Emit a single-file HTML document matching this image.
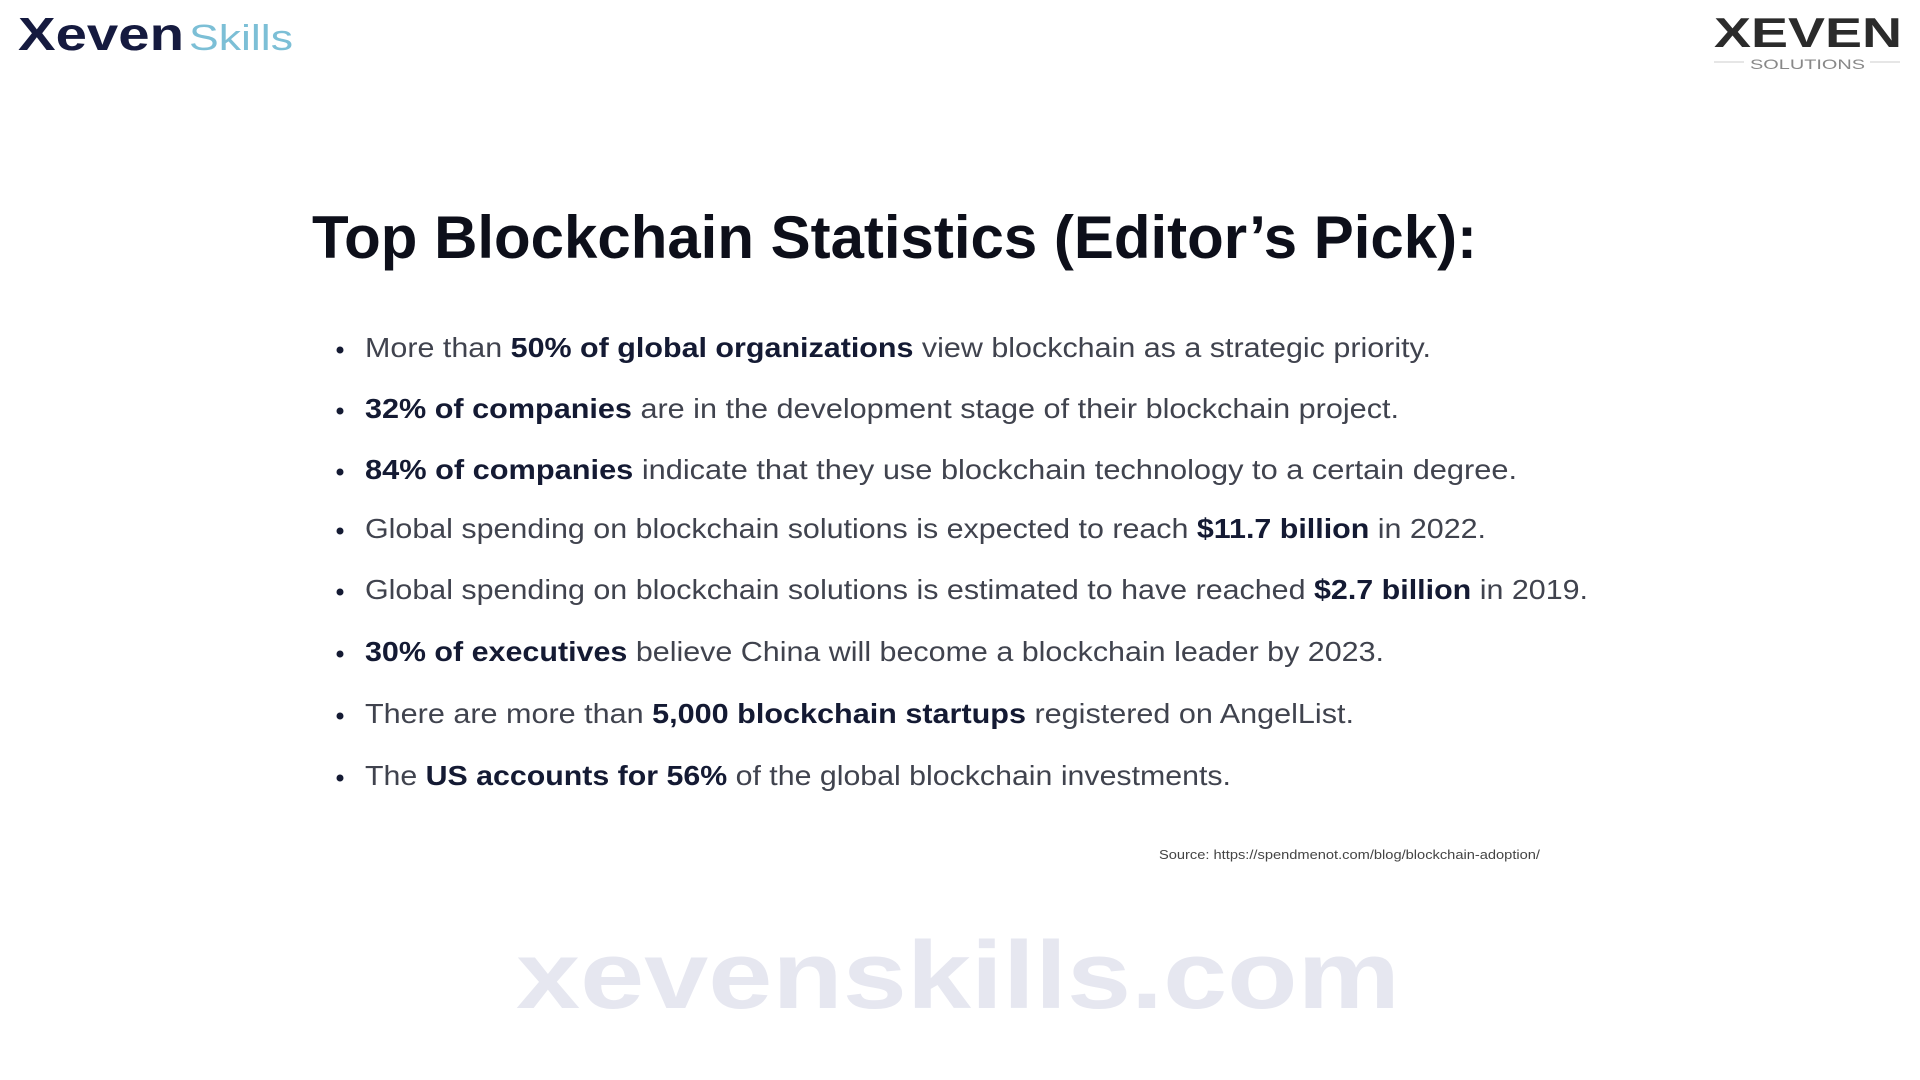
<!DOCTYPE html>
<html><head><meta charset="utf-8"><style>
html,body{margin:0;padding:0;background:#fff;width:1920px;height:1080px;overflow:hidden}
svg{display:block}
.b{font-weight:700;fill:#141a33}
.r{fill:#40434e}
text{font-family:"Liberation Sans",sans-serif}
</style></head><body>
<svg width="1920" height="1080" viewBox="0 0 1920 1080">
<rect width="1920" height="1080" fill="#ffffff"/>
<g>
<text x="18" y="50" font-size="46" font-weight="700" fill="#151a3f" textLength="166" lengthAdjust="spacingAndGlyphs">Xeven</text>
<text x="189" y="50" font-size="36" fill="#7cbfd6" textLength="104" lengthAdjust="spacingAndGlyphs">Skills</text>
</g>
<g>
<text x="1714" y="47" font-size="42" font-weight="700" fill="#2b2b2b" textLength="188" lengthAdjust="spacingAndGlyphs">XEVEN</text>
<line x1="1714" y1="62" x2="1744" y2="62" stroke="#ccc" stroke-width="1"/>
<line x1="1870" y1="62" x2="1900" y2="62" stroke="#ccc" stroke-width="1"/>
<text x="1750" y="69" font-size="14" fill="#888" textLength="115" lengthAdjust="spacingAndGlyphs">SOLUTIONS</text>
</g>
<text x="312" y="258" font-size="60" font-weight="700" fill="#0d0f1a" textLength="1165" lengthAdjust="spacingAndGlyphs">Top Blockchain Statistics (Editor’s Pick):</text>
<g font-size="28">
<g><circle cx="340" cy="350" r="3.5" fill="#141a33"/>
<text x="365" y="357" textLength="1066" lengthAdjust="spacingAndGlyphs"><tspan class="r">More than </tspan><tspan class="b">50% of global organizations</tspan><tspan class="r"> view blockchain as a strategic priority.</tspan></text></g>
<g><circle cx="340" cy="411" r="3.5" fill="#141a33"/>
<text x="365" y="418" textLength="1034" lengthAdjust="spacingAndGlyphs"><tspan class="b">32% of companies</tspan><tspan class="r"> are in the development stage of their blockchain project.</tspan></text></g>
<g><circle cx="340" cy="472" r="3.5" fill="#141a33"/>
<text x="365" y="479" textLength="1152" lengthAdjust="spacingAndGlyphs"><tspan class="b">84% of companies</tspan><tspan class="r"> indicate that they use blockchain technology to a certain degree.</tspan></text></g>
<g><circle cx="340" cy="531" r="3.5" fill="#141a33"/>
<text x="365" y="538" textLength="1121" lengthAdjust="spacingAndGlyphs"><tspan class="r">Global spending on blockchain solutions is expected to reach </tspan><tspan class="b">$11.7 billion</tspan><tspan class="r"> in 2022.</tspan></text></g>
<g><circle cx="340" cy="592" r="3.5" fill="#141a33"/>
<text x="365" y="599" textLength="1223" lengthAdjust="spacingAndGlyphs"><tspan class="r">Global spending on blockchain solutions is estimated to have reached </tspan><tspan class="b">$2.7 billion</tspan><tspan class="r"> in 2019.</tspan></text></g>
<g><circle cx="340" cy="654" r="3.5" fill="#141a33"/>
<text x="365" y="661" textLength="1019" lengthAdjust="spacingAndGlyphs"><tspan class="b">30% of executives</tspan><tspan class="r"> believe China will become a blockchain leader by 2023.</tspan></text></g>
<g><circle cx="340" cy="716" r="3.5" fill="#141a33"/>
<text x="365" y="723" textLength="989" lengthAdjust="spacingAndGlyphs"><tspan class="r">There are more than </tspan><tspan class="b">5,000 blockchain startups</tspan><tspan class="r"> registered on AngelList.</tspan></text></g>
<g><circle cx="340" cy="778" r="3.5" fill="#141a33"/>
<text x="365" y="785" textLength="866" lengthAdjust="spacingAndGlyphs"><tspan class="r">The </tspan><tspan class="b">US accounts for 56%</tspan><tspan class="r"> of the global blockchain investments.</tspan></text></g>
</g>
<text x="1159" y="859" font-size="13" fill="#444" textLength="381" lengthAdjust="spacingAndGlyphs">Source: https://spendmenot.com/blog/blockchain-adoption/</text>
<text x="516" y="1008" font-size="96" font-weight="700" fill="#e6e7f0" textLength="884" lengthAdjust="spacingAndGlyphs">xevenskills.com</text>
</svg>
</body></html>
